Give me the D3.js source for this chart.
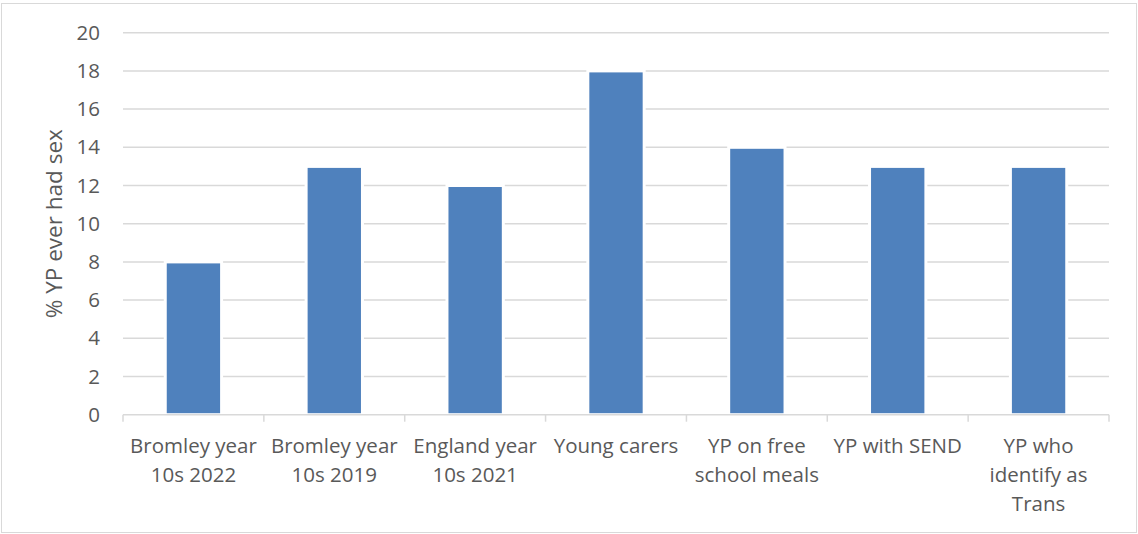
<!DOCTYPE html>
<html><head><meta charset="utf-8">
<script src="https://cdn.jsdelivr.net/npm/d3@7"></script>
<style>body{margin:0;background:#fff;} svg{display:block;}</style>
</head><body>
<svg id="c" width="1138" height="534"></svg>
<script>
const categories = ["Bromley year 10s 2022","Bromley year 10s 2019","England year 10s 2021","Young carers","YP on free school meals","YP with SEND","YP who identify as Trans"];
const values = [8,13,12,18,14,13,13];
const yTicks = [0,2,4,6,8,10,12,14,16,18,20];
const yTitle = "% YP ever had sex";

const svg = d3.select("#c");
const W = 1138, H = 534;
const m = {left:123, right:W-1109, top:32.7, bottom:H-414.7};
const font = "'Open Sans', Lato, sans-serif";
const tc = "#595959";

svg.append("rect").attr("x",1.5).attr("y",3.5).attr("width",1135).attr("height",529)
  .attr("fill","#fff").attr("stroke","#d9d9d9").attr("stroke-width",1);

const x = d3.scaleBand().domain(categories).range([m.left, W-m.right]).paddingInner(0).paddingOuter(0);
const y = d3.scaleLinear().domain([0,20]).range([H-m.bottom, m.top]);

// gridlines
svg.append("g").selectAll("line").data(yTicks.filter(d=>d>0)).join("line")
  .attr("x1",m.left).attr("x2",W-m.right)
  .attr("y1",d=>y(d)).attr("y2",d=>y(d))
  .attr("stroke","#d9d9d9").attr("stroke-width",1.5);

// y axis labels
const yAxis = d3.axisLeft(y).tickValues(yTicks).tickSize(0).tickPadding(23);
const gy = svg.append("g").attr("transform",`translate(${m.left},0)`).call(yAxis);
gy.select(".domain").remove();
gy.selectAll("text").attr("font-family",font).attr("font-size",20.5).attr("fill",tc);

// bars
const bw = x.bandwidth()/2.5;
svg.append("g").selectAll("rect").data(values).join("rect")
  .attr("x",(d,i)=>x(categories[i])+x.bandwidth()/2-bw/2)
  .attr("width",bw)
  .attr("y",d=>y(d))
  .attr("height",d=>y(0)-y(d))
  .attr("fill","#4f81bd").attr("stroke","#fff").attr("stroke-width",3);

// x axis
const gx = svg.append("g").attr("transform",`translate(0,${y(0)})`);
gx.append("line").attr("x1",m.left).attr("x2",W-m.right).attr("stroke","#d9d9d9").attr("stroke-width",1.5);
const bounds = categories.map(c=>x(c)).concat([W-m.right]);
gx.selectAll("line.tk").data(bounds).join("line").attr("class","tk")
  .attr("x1",d=>d).attr("x2",d=>d).attr("y1",0).attr("y2",7)
  .attr("stroke","#d9d9d9").attr("stroke-width",1.5);

// wrapped labels
const maxW = 138;
categories.forEach(c=>{
  const t = gx.append("text").attr("x",x(c)+x.bandwidth()/2).attr("y",38)
    .attr("text-anchor","middle").attr("font-family",font).attr("font-size",20.5).attr("fill",tc);
  const words = c.split(" ");
  let lines = [], cur = [];
  const tmp = t.append("tspan");
  words.forEach(w=>{
    const test = cur.concat([w]).join(" ");
    tmp.text(test);
    if (tmp.node().getComputedTextLength() > maxW && cur.length){ lines.push(cur.join(" ")); cur=[w]; }
    else cur.push(w);
  });
  lines.push(cur.join(" "));
  tmp.remove();
  lines.forEach((l,i)=>t.append("tspan").attr("x",x(c)+x.bandwidth()/2).attr("dy",i?29:0).text(l));
});

// y title
svg.append("text").attr("transform",`translate(62,${(y(0)+y(20))/2}) rotate(-90)`)
  .attr("text-anchor","middle").attr("font-family",font).attr("font-size",22.5).attr("fill",tc).text(yTitle);
</script>
</body></html>
